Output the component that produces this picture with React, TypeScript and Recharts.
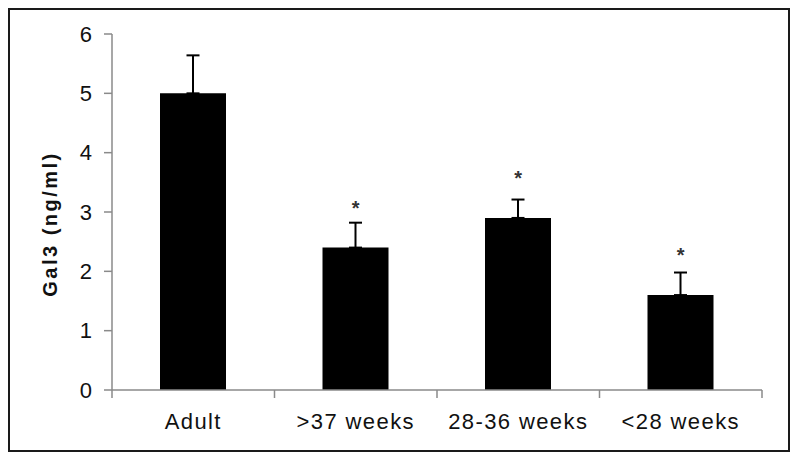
import { ComposedChart, Bar, Line, XAxis, YAxis, ErrorBar } from 'recharts';

const categories = ['Adult', '>37 weeks', '28-36 weeks', '<28 weeks'];
const means = [5.0, 2.4, 2.9, 1.6];
const sems = [0.64, 0.42, 0.31, 0.38];
const stars = [null, 3.14, 3.64, 2.34];
const yTicks = [0, 1, 2, 3, 4, 5, 6];

const data = categories.map((name, i) => ({
  name,
  gal3: means[i],
  err: [0, sems[i]],
  star: stars[i],
}));

const W = 778;
const H = 440;
const margin = { top: 24, right: 26, left: 22, bottom: 20 };
const plotW = W - margin.left - 80 - margin.right;
const halfBand = plotW / categories.length / 2;
const axisGray = '#8a8a8a';
const font = '"Liberation Sans", Arial, sans-serif';

function XTick({ x, y, payload, index }: any) {
  return (
    <g>
      <line x1={x - halfBand} x2={x - halfBand} y1={y - 8} y2={y} stroke={axisGray} strokeWidth={1.5} />
      {index === categories.length - 1 && (
        <line x1={x + halfBand} x2={x + halfBand} y1={y - 8} y2={y} stroke={axisGray} strokeWidth={1.5} />
      )}
      <text x={x} y={y + 31} textAnchor="middle" fontSize={22} fill="#111" fontFamily={font} letterSpacing={1.4}>
        {payload.value}
      </text>
    </g>
  );
}

function Star({ cx, cy, payload }: any) {
  if (payload?.star == null) return null;
  return (
    <text key={payload.name} x={cx} y={cy + 11} textAnchor="middle" fontSize={20} fontWeight="bold" fill="#333" fontFamily={font}>
      *
    </text>
  );
}

function YLabel({ viewBox }: any) {
  const cx = viewBox.x + 18;
  const cy = viewBox.y + viewBox.height / 2 + 12;
  return (
    <text
      x={cx}
      y={cy}
      transform={`rotate(-90, ${cx}, ${cy})`}
      textAnchor="middle"
      dominantBaseline="central"
      fontSize={20}
      fontWeight="bold"
      fill="#111"
      fontFamily={font}
      letterSpacing={2.5}
    >
      Gal3 (ng/ml)
    </text>
  );
}

export default function App() {
  return (
    <div style={{ width: 782, height: 444, border: '2px solid #1a1a1a', boxSizing: 'border-box', background: '#fff' }}>
      <ComposedChart width={W} height={H} data={data} margin={margin}>
        <XAxis
          dataKey="name"
          tickLine={false}
          tickSize={8}
          tickMargin={0}
          axisLine={{ stroke: axisGray, strokeWidth: 1.5 }}
          tick={<XTick />}
          height={40}
          interval={0}
        />
        <YAxis
          domain={[0, 6]}
          ticks={yTicks}
          width={80}
          tickSize={8}
          tickMargin={12}
          axisLine={{ stroke: axisGray, strokeWidth: 1.5 }}
          tickLine={{ stroke: axisGray, strokeWidth: 1.5 }}
          tick={{ fontSize: 22, fill: '#111', fontFamily: font }}
          label={<YLabel />}
        />
        <Bar dataKey="gal3" fill="#000" barSize={66} isAnimationActive={false}>
          <ErrorBar dataKey="err" direction="y" width={6.5} stroke="#000" strokeWidth={2} />
        </Bar>
        <Line dataKey="star" stroke="none" dot={<Star />} activeDot={false} isAnimationActive={false} />
      </ComposedChart>
    </div>
  );
}
